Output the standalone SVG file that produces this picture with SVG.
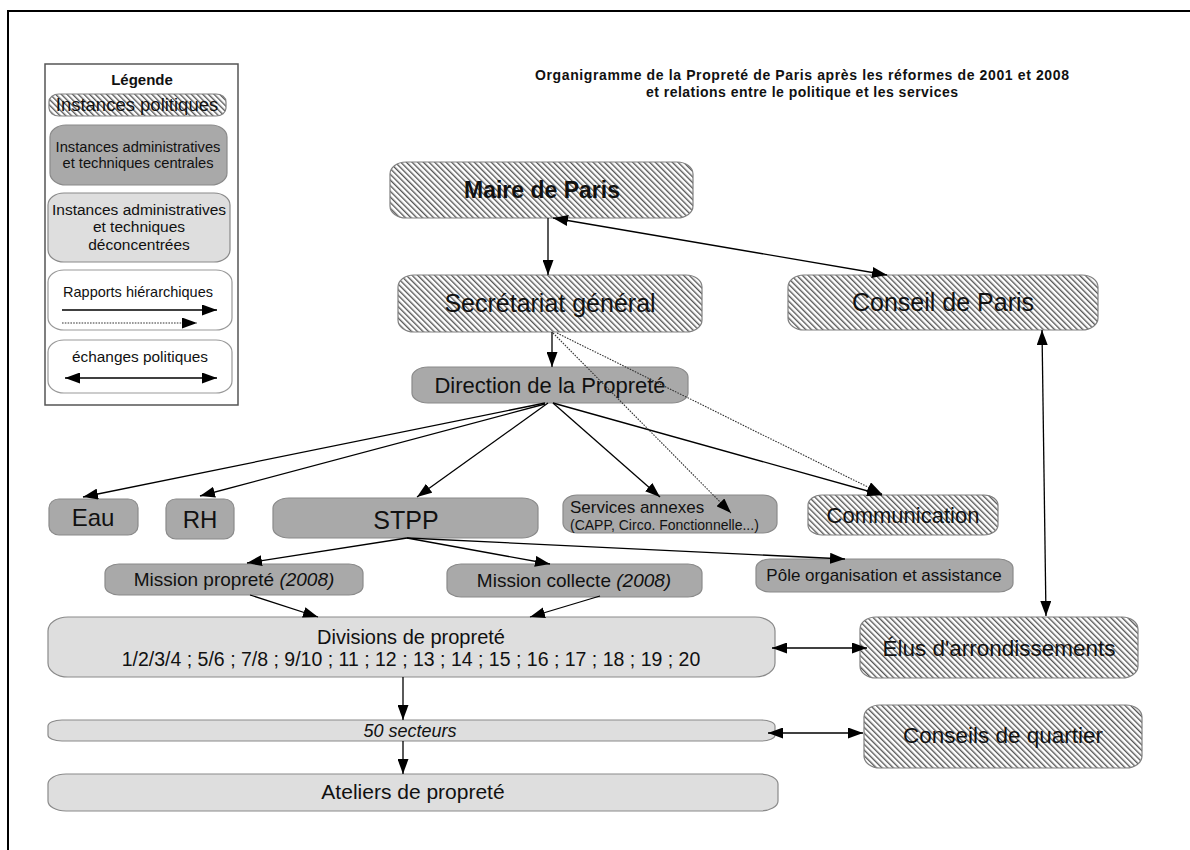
<svg xmlns="http://www.w3.org/2000/svg" width="1190" height="850" viewBox="0 0 1190 850">
<defs>
<pattern id="hatch" patternUnits="userSpaceOnUse" width="4" height="4" patternTransform="rotate(-45)">
<rect width="4" height="4" fill="#ffffff"/>
<line x1="0.7" y1="0" x2="0.7" y2="4" stroke="#4d4d4d" stroke-width="1.3"/>
</pattern>
<marker id="ah" viewBox="0 0 15 11" refX="15" refY="5.5" markerWidth="15" markerHeight="11" markerUnits="userSpaceOnUse" orient="auto-start-reverse">
<path d="M0,0 L15,5.5 L0,11 Z" fill="#000"/>
</marker>
</defs>
<style>
text{font-family:"Liberation Sans",Arial,sans-serif;fill:#111;}
.pol{fill:url(#hatch);stroke:#808080;stroke-width:1.2;}
.cen{fill:#a9a9a9;stroke:#8a8a8a;stroke-width:1.2;}
.dec{fill:#dedede;stroke:#8a8a8a;stroke-width:1.2;}
.leg{fill:#ffffff;stroke:#999;stroke-width:1.2;}
.c{stroke:#000;stroke-width:1.3;fill:none;marker-end:url(#ah);}
.d{stroke:#333;stroke-width:1.1;stroke-dasharray:1.6 1.2;fill:none;marker-end:url(#ah);}
.b{stroke:#000;stroke-width:1.3;fill:none;marker-start:url(#ah);marker-end:url(#ah);}
.m{text-anchor:middle;}
</style>
<rect width="1190" height="850" fill="#ffffff"/>
<path d="M8,850 L8,11 L1190,11" fill="none" stroke="#000" stroke-width="2"/>

<g id="legend">
<rect x="45" y="64" width="193" height="341" fill="#fff" stroke="#555" stroke-width="1.5"/>
<text x="142" y="85" class="m" font-size="15" font-weight="bold">Légende</text>
<rect class="pol" x="49" y="94" width="177" height="22" rx="10" ry="8"/>
<text x="137" y="111" class="m" font-size="18.5">Instances politiques</text>
<rect class="cen" x="50" y="125" width="177" height="60" rx="16" ry="12"/>
<text x="138" y="152" class="m" font-size="14.7">Instances administratives</text>
<text x="138" y="168" class="m" font-size="14.7">et techniques centrales</text>
<rect class="dec" x="48" y="193" width="182" height="69" rx="16" ry="12"/>
<text x="139" y="215" class="m" font-size="15.5">Instances administratives</text>
<text x="139" y="232" class="m" font-size="15.5">et techniques</text>
<text x="139" y="250" class="m" font-size="15.5">déconcentrées</text>
<rect class="leg" x="48" y="270" width="184" height="60" rx="16" ry="12"/>
<text x="138" y="297" class="m" font-size="14.5">Rapports hiérarchiques</text>
<line class="c" x1="62" y1="310" x2="217" y2="310"/>
<line class="d" x1="62" y1="323" x2="197" y2="323"/>
<rect class="leg" x="48" y="340" width="184" height="53" rx="16" ry="12"/>
<text x="140" y="362" class="m" font-size="15.4">échanges politiques</text>
<line class="b" x1="65" y1="378" x2="217" y2="378"/>
</g>

<g id="title">
<text x="802" y="80" class="m" font-size="14" font-weight="bold" textLength="534" lengthAdjust="spacing">Organigramme de la Propreté de Paris après les réformes de 2001 et 2008</text>
<text x="802" y="97" class="m" font-size="14" font-weight="bold" textLength="312" lengthAdjust="spacing">et relations entre le politique et les services</text>
</g>

<g id="maire">
<rect class="pol" x="390" y="162" width="303" height="56" rx="16" ry="12"/>
<text x="542" y="198" class="m" font-size="23" font-weight="bold">Maire de Paris</text>
</g>
<g id="secretariat">
<rect class="pol" x="398" y="275" width="304" height="57" rx="16" ry="12"/>
<text x="550" y="312" class="m" font-size="25">Secrétariat général</text>
</g>
<g id="conseil-paris">
<rect class="pol" x="788" y="275" width="310" height="55" rx="16" ry="12"/>
<text x="943" y="311" class="m" font-size="25">Conseil de Paris</text>
</g>
<g id="direction">
<rect class="cen" x="412" y="367" width="276" height="36" rx="16" ry="10"/>
<text x="550" y="393" class="m" font-size="22">Direction de la Propreté</text>
</g>
<g id="eau">
<rect class="cen" x="49" y="499" width="89" height="36" rx="10" ry="9"/>
<text x="93" y="526" class="m" font-size="24">Eau</text>
</g>
<g id="rh">
<rect class="cen" x="166" y="499" width="68" height="40" rx="10" ry="9"/>
<text x="200" y="528" class="m" font-size="24">RH</text>
</g>
<g id="stpp">
<rect class="cen" x="273" y="498" width="265" height="40" rx="16" ry="10"/>
<text x="406" y="529" class="m" font-size="25">STPP</text>
</g>
<g id="services">
<rect class="cen" x="563" y="495" width="214" height="38" rx="14" ry="10"/>
<text x="570" y="513" font-size="17">Services annexes</text>
<text x="570" y="530" font-size="14">(CAPP, Circo. Fonctionnelle...)</text>
</g>
<g id="communication">
<rect class="pol" x="808" y="495" width="190" height="40" rx="14" ry="10"/>
<text x="903" y="523" class="m" font-size="22">Communication</text>
</g>
<g id="mission-proprete">
<rect class="cen" x="105" y="564" width="258" height="31" rx="14" ry="9"/>
<text x="234" y="586" class="m" font-size="19">Mission propreté <tspan font-style="italic">(2008)</tspan></text>
</g>
<g id="mission-collecte">
<rect class="cen" x="447" y="564" width="255" height="33" rx="14" ry="9"/>
<text x="574" y="587" class="m" font-size="19">Mission collecte <tspan font-style="italic">(2008)</tspan></text>
</g>
<g id="pole">
<rect class="cen" x="756" y="559" width="257" height="33" rx="14" ry="9"/>
<text x="884" y="581" class="m" font-size="17">Pôle organisation et assistance</text>
</g>
<g id="divisions">
<rect class="dec" x="48" y="617" width="727" height="60" rx="20" ry="14"/>
<text x="411" y="644" class="m" font-size="20">Divisions de propreté</text>
<text x="411" y="666" class="m" font-size="19.5">1/2/3/4 ; 5/6 ; 7/8 ; 9/10 ; 11 ; 12 ; 13 ; 14 ; 15 ; 16 ; 17 ; 18 ; 19 ; 20</text>
</g>
<g id="secteurs">
<rect class="dec" x="48" y="720" width="727" height="21" rx="14" ry="6"/>
<text x="410" y="737" class="m" font-size="18" font-style="italic">50 secteurs</text>
</g>
<g id="ateliers">
<rect class="dec" x="48" y="774" width="730" height="37" rx="18" ry="10"/>
<text x="413" y="799" class="m" font-size="21">Ateliers de propreté</text>
</g>
<g id="elus">
<rect class="pol" x="860" y="617" width="278" height="61" rx="16" ry="12"/>
<text x="999" y="656" class="m" font-size="22.5">Élus d'arrondissements</text>
</g>
<g id="conseils-quartier">
<rect class="pol" x="864" y="705" width="278" height="63" rx="16" ry="12"/>
<text x="1003" y="743" class="m" font-size="22.5">Conseils de quartier</text>
</g>

<g id="connectors">
<line class="c" x1="548" y1="218" x2="548" y2="275"/>
<line class="b" x1="553" y1="218" x2="887" y2="275"/>
<line class="c" x1="552" y1="332" x2="552" y2="367"/>
<line class="d" x1="553" y1="333" x2="731" y2="513"/>
<line class="d" x1="557" y1="333" x2="882" y2="494"/>
<line class="c" x1="545" y1="403" x2="83" y2="497"/>
<line class="c" x1="545" y1="404" x2="200" y2="496"/>
<line class="c" x1="548" y1="403" x2="417" y2="497"/>
<line class="c" x1="553" y1="403" x2="660" y2="497"/>
<line class="c" x1="553" y1="403" x2="882" y2="495"/>
<line class="c" x1="407" y1="538" x2="247" y2="563"/>
<line class="c" x1="407" y1="538" x2="550" y2="564"/>
<line class="c" x1="407" y1="538" x2="845" y2="559"/>
<line class="c" x1="250" y1="595" x2="318" y2="617"/>
<line class="c" x1="600" y1="596" x2="530" y2="617"/>
<line class="c" x1="403" y1="677" x2="403" y2="720"/>
<line class="c" x1="403" y1="741" x2="403" y2="774"/>
<line class="b" x1="772" y1="648" x2="867" y2="648"/>
<line class="b" x1="768" y1="733" x2="863" y2="733"/>
<line class="b" x1="1042" y1="330" x2="1046" y2="616"/>
</g>
</svg>
